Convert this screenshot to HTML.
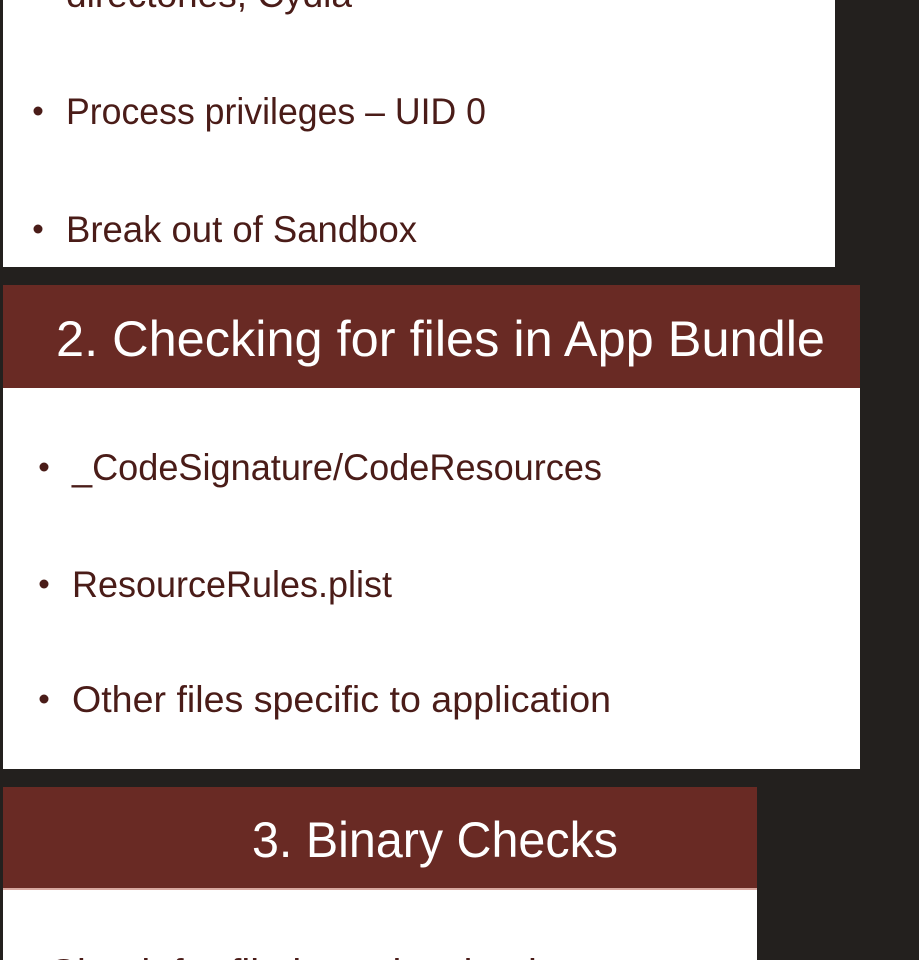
<!DOCTYPE html>
<html><head><meta charset="utf-8"><style>
html,body{margin:0;padding:0;background:#23201e;width:919px;height:960px;overflow:hidden}
</style></head><body>
<svg width="919" height="960" xmlns="http://www.w3.org/2000/svg" style="display:block">
<rect width="919" height="960" fill="#23201e"/>
<rect x="3" y="0" width="832" height="267" fill="#fff"/>
<rect x="3" y="285" width="857" height="103" fill="#692a24"/>
<rect x="3" y="388" width="857" height="381" fill="#fff"/>
<rect x="3" y="787" width="754" height="102" fill="#692a24"/>
<rect x="3" y="889" width="754" height="71" fill="#fff"/>
<rect x="3" y="888" width="754" height="2" fill="#d8a8a0"/>
<g font-family="Liberation Sans, sans-serif" font-size="37" fill="#4a1c18">
<text x="66" y="7" textLength="286" lengthAdjust="spacingAndGlyphs">directories, Cydia</text>
<circle cx="38" cy="111" r="4.5"/>
<text x="66" y="124" textLength="420" lengthAdjust="spacingAndGlyphs">Process privileges – UID 0</text>
<circle cx="38" cy="229" r="4.5"/>
<text x="66" y="242" textLength="351" lengthAdjust="spacingAndGlyphs">Break out of Sandbox</text>
<circle cx="44" cy="467" r="4.5"/>
<text x="72" y="480" textLength="530" lengthAdjust="spacingAndGlyphs">_CodeSignature/CodeResources</text>
<circle cx="44" cy="584" r="4.5"/>
<text x="72" y="597" textLength="320" lengthAdjust="spacingAndGlyphs">ResourceRules.plist</text>
<circle cx="44" cy="699" r="4.5"/>
<text x="72" y="712" textLength="539" lengthAdjust="spacingAndGlyphs">Other files specific to application</text>
<text x="48" y="985" textLength="520" lengthAdjust="spacingAndGlyphs">Check for file integrity checks</text>
</g>
<g font-family="Liberation Sans, sans-serif" font-size="50" fill="#fff">
<text x="56" y="356" textLength="769" lengthAdjust="spacingAndGlyphs">2. Checking for files in App Bundle</text>
<text x="252" y="857" textLength="366" lengthAdjust="spacingAndGlyphs">3. Binary Checks</text>
</g>
</svg>
</body></html>
